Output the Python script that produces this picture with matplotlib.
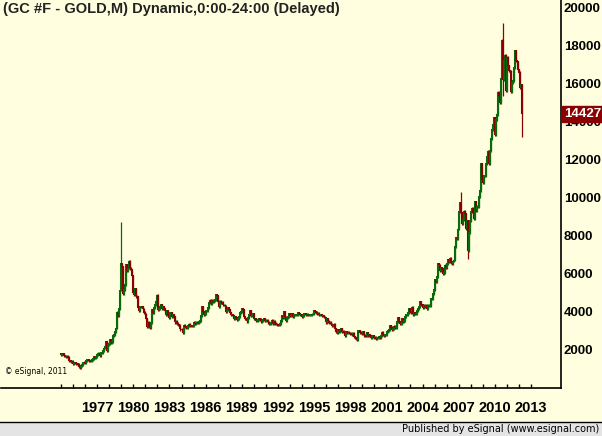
import numpy as np
from matplotlib import pyplot as plt

# monthly closes (price units, chart shows x10), one list per year
closes_by_year = [
    [175, 180, 178, 168, 167, 165, 166, 160, 142, 143, 139, 140],
    [128, 132, 133, 128, 126, 124, 112, 104, 115, 123, 131, 134],
    [132, 142, 148, 148, 143, 141, 145, 146, 154, 162, 160, 165],
    [173, 181, 181, 170, 183, 183, 198, 209, 218, 242, 195, 226],
    [232, 253, 240, 245, 276, 279, 296, 314, 397, 382, 415, 512],
    [653, 637, 494, 517, 543, 649, 615, 630, 666, 629, 620, 590],
    [500, 490, 520, 482, 480, 423, 407, 425, 428, 427, 414, 397],
    [388, 363, 320, 345, 320, 316, 342, 410, 397, 423, 437, 456],
    [488, 410, 415, 430, 438, 415, 425, 415, 405, 385, 405, 382],
    [370, 395, 395, 375, 385, 375, 345, 350, 340, 333, 330, 308],
    [305, 290, 330, 320, 315, 315, 325, 335, 325, 328, 325, 327],
    [345, 340, 345, 345, 342, 346, 355, 380, 425, 400, 385, 390],
    [405, 405, 420, 450, 460, 445, 460, 455, 460, 465, 490, 485],
    [455, 425, 455, 450, 450, 435, 435, 430, 400, 410, 420, 410],
    [395, 385, 385, 380, 365, 375, 370, 360, 365, 375, 395, 400],
    [415, 410, 375, 365, 365, 350, 370, 385, 405, 380, 385, 390],
    [365, 365, 355, 355, 360, 365, 360, 350, 355, 360, 365, 355],
    [355, 355, 345, 335, 338, 342, 355, 340, 350, 340, 335, 333],
    [330, 330, 340, 355, 378, 370, 400, 372, 355, 370, 373, 390],
    [380, 380, 390, 375, 385, 385, 385, 385, 395, 390, 385, 385],
    [375, 378, 390, 390, 385, 388, 385, 385, 385, 385, 388, 388],
    [405, 400, 398, 392, 392, 383, 385, 385, 378, 380, 372, 370],
    [345, 365, 350, 342, 345, 335, 325, 325, 335, 310, 295, 290],
    [305, 298, 300, 310, 295, 298, 290, 273, 295, 292, 293, 288],
    [287, 287, 280, 287, 270, 262, 256, 255, 300, 300, 292, 290],
    [283, 295, 277, 275, 273, 289, 277, 278, 273, 265, 270, 273],
    [265, 267, 258, 264, 265, 270, 266, 273, 293, 278, 275, 278],
    [282, 297, 301, 308, 327, 318, 304, 312, 324, 317, 318, 347],
    [368, 348, 336, 336, 364, 346, 355, 375, 385, 386, 398, 415],
    [400, 397, 423, 387, 395, 392, 392, 408, 415, 425, 452, 438],
    [422, 435, 428, 435, 416, 435, 430, 433, 470, 470, 495, 518],
    [568, 557, 583, 653, 645, 615, 632, 627, 601, 605, 645, 632],
    [652, 673, 662, 681, 660, 652, 667, 672, 745, 790, 785, 835],
    [925, 975, 920, 865, 885, 930, 915, 835, 880, 720, 815, 880],
    [925, 945, 920, 890, 980, 930, 955, 955, 1005, 1040, 1180, 1095],
    [1080, 1115, 1115, 1180, 1215, 1245, 1180, 1250, 1310, 1360, 1385, 1420],
    [1330, 1410, 1440, 1555, 1535, 1500, 1630, 1830, 1620, 1720, 1750, 1565],
    [1740, 1695, 1670, 1665, 1560, 1605, 1615, 1685, 1775, 1720, 1715, 1675],
    [1660, 1580, 1595, 1442.7],
]
first_open = 180
# notable wicks: month index -> (high, low)
spikes = {60: (875, 512), 398: (1033, 915), 405: (880, 681), 440: (1923, 1535),
          459: (1595, 1321)}
start_year = 1974.0
last_price = "14427"
year_labels = [1977, 1980, 1983, 1986, 1989, 1992, 1995, 1998, 2001, 2004, 2007, 2010, 2013]
y_ticks = [2000, 4000, 6000, 8000, 10000, 12000, 14000, 16000, 18000, 20000]

closes = np.array([c for yr in closes_by_year for c in yr]) * 10
opens = np.concatenate([[first_open * 10], closes[:-1]])
highs = np.maximum(opens, closes) + 60
lows = np.minimum(opens, closes) - 60
for i, (h, l) in spikes.items():
    highs[i] = h * 10
    lows[i] = l * 10
x = start_year + np.arange(len(closes)) / 12.0

bg = '#FFFFE0'
fig = plt.figure(figsize=(6.02, 4.36), dpi=100, facecolor=bg)
ax = fig.add_axes([1 / 602, 48 / 436, 560 / 602, 388 / 436])
ax.set_facecolor(bg)

up = closes >= opens
colors = np.where(up, '#0A6A0A', '#8B0000')
ax.vlines(x, lows, highs, colors=colors, linewidth=0.9)
ax.vlines(x, np.minimum(opens, closes), np.maximum(opens, closes) + 40,
          colors=colors, linewidth=1.5)

ax.set_xlim(start_year - 60 / 12.05, start_year + 500 / 12.05)
ax.set_ylim(0, 20420)
ax.yaxis.tick_right()
ax.set_yticks(y_ticks)
ax.set_yticklabels([str(v) for v in y_ticks], fontsize=9.5, fontweight='bold',
                   family='Liberation Sans')
ax.tick_params(axis='y', length=0, pad=2)
ax.set_xticks(np.arange(1975, 2015) - 1)
ax.set_xticklabels([])
ax.tick_params(axis='x', direction='in', length=3, width=1)
for y in year_labels:
    ax.text(y, -700, str(y), ha='center', va='top', fontsize=10.5,
            fontweight='bold', family='Liberation Sans')
for s in ['top', 'left']:
    ax.spines[s].set_visible(False)
ax.spines['bottom'].set_linewidth(1.2)
ax.spines['right'].set_linewidth(1.2)

ax.text(0.003, 0.995, '(GC #F - GOLD,M) Dynamic,0:00-24:00 (Delayed)',
        transform=ax.transAxes, ha='left', va='top', fontsize=10.5,
        fontweight='bold', family='Liberation Sans', color='#222222')
ax.text(0.008, 0.035, '\u00a9 eSignal, 2011', transform=ax.transAxes,
        fontsize=5.5, family='DejaVu Sans')
ax.text(1.005, 14427, last_price, transform=ax.get_yaxis_transform(),
        ha='left', va='center', fontsize=9.5, fontweight='bold', color='white',
        family='Liberation Sans', zorder=10,
        bbox=dict(boxstyle='square,pad=0.15', fc='#8B0000', ec='#8B0000'))

fig.patches.append(plt.Rectangle((0, 0), 1, 14 / 436, transform=fig.transFigure,
                                 fc='#E4E4E4', ec='none'))
fig.lines.append(plt.Line2D([0, 1], [14 / 436, 14 / 436], transform=fig.transFigure,
                            color='black', linewidth=1))
fig.text(0.995, 7 / 436, 'Published by eSignal (www.esignal.com)', ha='right',
         va='center', fontsize=7, family='DejaVu Sans')

fig.savefig('out.png', dpi=100, facecolor=bg)
